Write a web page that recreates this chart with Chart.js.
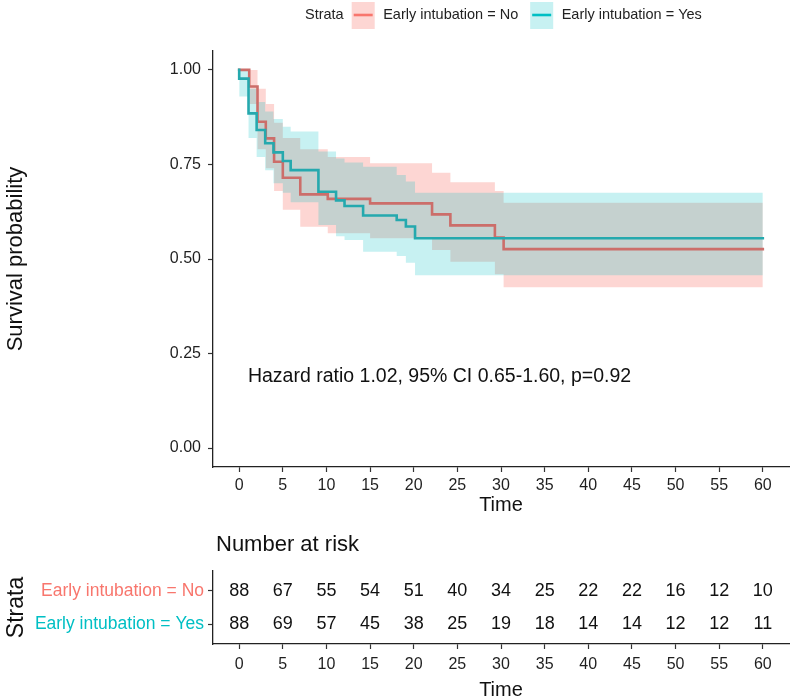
<!DOCTYPE html>
<html lang="en">
<head>
<meta charset="UTF-8">
<title>Survival by early intubation</title>
<script src="https://cdn.jsdelivr.net/npm/chart.js"></script>
<style>
    body { margin: 0; background: #fff; overflow: hidden; }
    .wrap { position: relative; width: 797px; height: 700px; }
    canvas { position: absolute; left: 0; }
    #km { top: 0; }
    #risk { top: 520px; }
</style>
</head>
<body>
<div class="wrap">
    <canvas id="km" width="797" height="520"></canvas>
    <canvas id="risk" width="797" height="180"></canvas>
</div>
<script>
    const FONT = '"Liberation Sans", Arial, sans-serif';
    Chart.defaults.font.family = FONT;
    Chart.defaults.color = '#1f1f1f';

    const RED = '#F8766D', TEAL = '#00BFC4';
    const RED_LINE = '#CC6E6A', TEAL_LINE = '#25A9AE';
    const RED_BAND = 'rgba(248,118,109,0.3)', TEAL_BAND = 'rgba(0,191,196,0.22)';

    const strata = ['Early intubation = No', 'Early intubation = Yes'];
    const timeTicks = [0, 5, 10, 15, 20, 25, 30, 35, 40, 45, 50, 55, 60];
    const survTicks = [0, 0.25, 0.5, 0.75, 1];

    // Kaplan-Meier steps, Early intubation = No
    const noTimes = [0, 1.15, 2.1, 3.05, 4.0, 5.0, 7.0, 10.15, 15.0, 22.1, 24.2, 29.3, 30.3, 60];
    const noSurv  = [1, 0.956, 0.863, 0.819, 0.757, 0.715, 0.671, 0.659, 0.647, 0.618, 0.589, 0.557, 0.526, 0.526];
    const noUpper = [1, 1, 0.95, 0.91, 0.86, 0.82, 0.79, 0.77, 0.753, 0.728, 0.703, 0.68, 0.649, 0.649];
    const noLower = [1, 0.91, 0.79, 0.74, 0.68, 0.63, 0.585, 0.568, 0.555, 0.524, 0.493, 0.46, 0.425, 0.425];

    // Kaplan-Meier steps, Early intubation = Yes
    const yesTimes = [0, 0, 1.07, 2.0, 2.98, 3.93, 5.0, 5.9, 9.08, 11.1, 12.07, 14.2, 18.05, 19.1, 20.15, 60];
    const yesSurv  = [1, 0.977, 0.885, 0.841, 0.806, 0.782, 0.759, 0.735, 0.678, 0.655, 0.64, 0.615, 0.603, 0.586, 0.555, 0.555];
    const yesUpper = [1, 1, 0.95, 0.915, 0.89, 0.87, 0.85, 0.837, 0.784, 0.766, 0.755, 0.744, 0.722, 0.705, 0.675, 0.675];
    const yesLower = [1, 0.93, 0.82, 0.77, 0.735, 0.70, 0.675, 0.65, 0.59, 0.56, 0.55, 0.519, 0.508, 0.49, 0.457, 0.457];

    // number at risk
    const riskTimes = [0, 5, 10, 15, 20, 25, 30, 35, 40, 45, 50, 55, 60];
    const riskNo  = [88, 67, 55, 54, 51, 40, 34, 25, 22, 22, 16, 12, 10];
    const riskYes = [88, 69, 57, 45, 38, 25, 19, 18, 14, 14, 12, 12, 11];

    const hrLabel = 'Hazard ratio 1.02, 95% CI 0.65-1.60, p=0.92';
    const hrAt = { t: 1, s: 0.19 };

    function pts(times, vals) {
        return times.map((t, i) => ({ x: t, y: vals[i] }));
    }

    function bandSet(times, vals, color, fillNext) {
        return {
            data: pts(times, vals), stepped: true, borderWidth: 0, pointRadius: 0,
            fill: fillNext ? '+1' : false, backgroundColor: color, borderColor: 'transparent'
        };
    }

    function lineSet(times, vals, color) {
        return {
            data: pts(times, vals), stepped: true, borderWidth: 2.6, pointRadius: 0,
            fill: false, borderColor: color, borderCapStyle: 'square'
        };
    }

    function timeAxis(height, tickPad, titleOpts) {
        return {
            type: 'linear', min: -3, max: 63,
            afterBuildTicks: s => { s.ticks = timeTicks.map(v => ({ value: v })); },
            afterFit: s => { s.height = height; },
            grid: { display: true, drawOnChartArea: false, drawTicks: true, tickLength: 5, tickColor: '#333', tickWidth: 1.2 },
            border: { display: true, color: '#222', width: 1.3 },
            ticks: { font: { size: 16 }, padding: tickPad, maxRotation: 0, autoSkip: false },
            title: Object.assign({ display: true, text: 'Time', color: '#111' }, titleOpts)
        };
    }

    // legend "Strata [key] No [key] Yes" above the plot, plus the HR note
    const strataLegend = {
        id: 'strataLegend',
        afterDraw(chart) {
            const ctx = chart.ctx;
            ctx.save();
            ctx.font = '14.5px ' + FONT;
            ctx.textBaseline = 'middle';
            ctx.fillStyle = '#222';
            let x = 305;
            const y = 15;
            ctx.fillText('Strata', x, y);
            x += ctx.measureText('Strata').width + 8;
            const keys = [[RED_BAND, RED], [TEAL_BAND, TEAL]];
            strata.forEach((label, i) => {
                ctx.fillStyle = keys[i][0];
                ctx.fillRect(x, y - 13, 23, 27);
                ctx.strokeStyle = keys[i][1];
                ctx.lineWidth = 2.6;
                ctx.beginPath();
                ctx.moveTo(x + 2, y);
                ctx.lineTo(x + 21, y);
                ctx.stroke();
                x += 23 + 8.5;
                ctx.fillStyle = '#222';
                ctx.fillText(label, x, y);
                x += ctx.measureText(label).width + 12;
            });
            ctx.font = '19.5px ' + FONT;
            ctx.fillStyle = '#111';
            ctx.fillText(hrLabel, chart.scales.x.getPixelForValue(hrAt.t), chart.scales.y.getPixelForValue(hrAt.s));
            ctx.restore();
        }
    };

    new Chart(document.getElementById('km'), {
        type: 'line',
        data: {
            datasets: [
                lineSet(yesTimes, yesSurv, TEAL_LINE),
                lineSet(noTimes, noSurv, RED_LINE),
                bandSet(yesTimes, yesUpper, TEAL_BAND, true),
                bandSet(yesTimes, yesLower, TEAL_BAND, false),
                bandSet(noTimes, noUpper, RED_BAND, true),
                bandSet(noTimes, noLower, RED_BAND, false)
            ]
        },
        options: {
            responsive: false,
            animation: false,
            layout: { padding: { top: 51, right: 8, left: 0, bottom: 0 } },
            plugins: { legend: { display: false }, tooltip: { enabled: false } },
            scales: {
                x: timeAxis(53, 4, { font: { size: 20 }, padding: { top: 0, bottom: 3 } }),
                y: {
                    type: 'linear', min: -0.05, max: 1.05,
                    afterBuildTicks: s => { s.ticks = survTicks.map(v => ({ value: v })); },
                    afterFit: s => { s.width = 213; },
                    grid: { display: true, drawOnChartArea: false, drawTicks: true, tickLength: 5, tickColor: '#333', tickWidth: 1.2 },
                    border: { display: true, color: '#222', width: 1.3 },
                    ticks: { font: { size: 16 }, padding: 7, callback: v => v.toFixed(2) },
                    title: { display: true, text: 'Survival probability', font: { size: 22 }, padding: { top: 3, bottom: 0 }, color: '#111' }
                }
            }
        },
        plugins: [strataLegend]
    });

    // risk table: counts written at each (time, stratum) point
    const riskLabels = {
        id: 'riskLabels',
        afterDatasetsDraw(chart) {
            const ctx = chart.ctx;
            ctx.save();
            ctx.font = '22px ' + FONT;
            ctx.fillStyle = '#111';
            ctx.textBaseline = 'middle';
            ctx.fillText('Number at risk', chart.chartArea.left + 3, 25);
            ctx.font = '18px ' + FONT;
            ctx.textAlign = 'center';
            chart.data.datasets.forEach((ds, di) => {
                chart.getDatasetMeta(di).data.forEach((p, i) => {
                    ctx.fillText(String(ds.counts[i]), p.x, p.y);
                });
            });
            ctx.restore();
        }
    };

    new Chart(document.getElementById('risk'), {
        type: 'line',
        data: {
            datasets: [
                { data: riskTimes.map(t => ({ x: t, y: 2 })), counts: riskNo, showLine: false, pointRadius: 0 },
                { data: riskTimes.map(t => ({ x: t, y: 1 })), counts: riskYes, showLine: false, pointRadius: 0 }
            ]
        },
        options: {
            responsive: false,
            animation: false,
            layout: { padding: { top: 51, right: 8, left: 0, bottom: 0 } },
            plugins: { legend: { display: false }, tooltip: { enabled: false } },
            scales: {
                x: timeAxis(56, 6, { font: { size: 20, lineHeight: 1 }, padding: { top: 0, bottom: 0 } }),
                y: {
                    type: 'linear', min: 0.4, max: 2.6,
                    afterBuildTicks: s => { s.ticks = [{ value: 2 }, { value: 1 }]; },
                    afterFit: s => { s.width = 213; },
                    grid: { display: true, drawOnChartArea: false, drawTicks: true, tickLength: 5, tickColor: '#333', tickWidth: 1.2 },
                    border: { display: true, color: '#222', width: 1.3 },
                    ticks: {
                        font: { size: 17.5 }, padding: 4,
                        callback: v => v === 2 ? strata[0] : strata[1],
                        color: c => c.tick && c.tick.value === 2 ? RED : TEAL
                    },
                    title: { display: true, text: 'Strata', font: { size: 23 }, padding: { top: 3, bottom: 0 }, color: '#111' }
                }
            }
        },
        plugins: [riskLabels]
    });
</script>
</body>
</html>
